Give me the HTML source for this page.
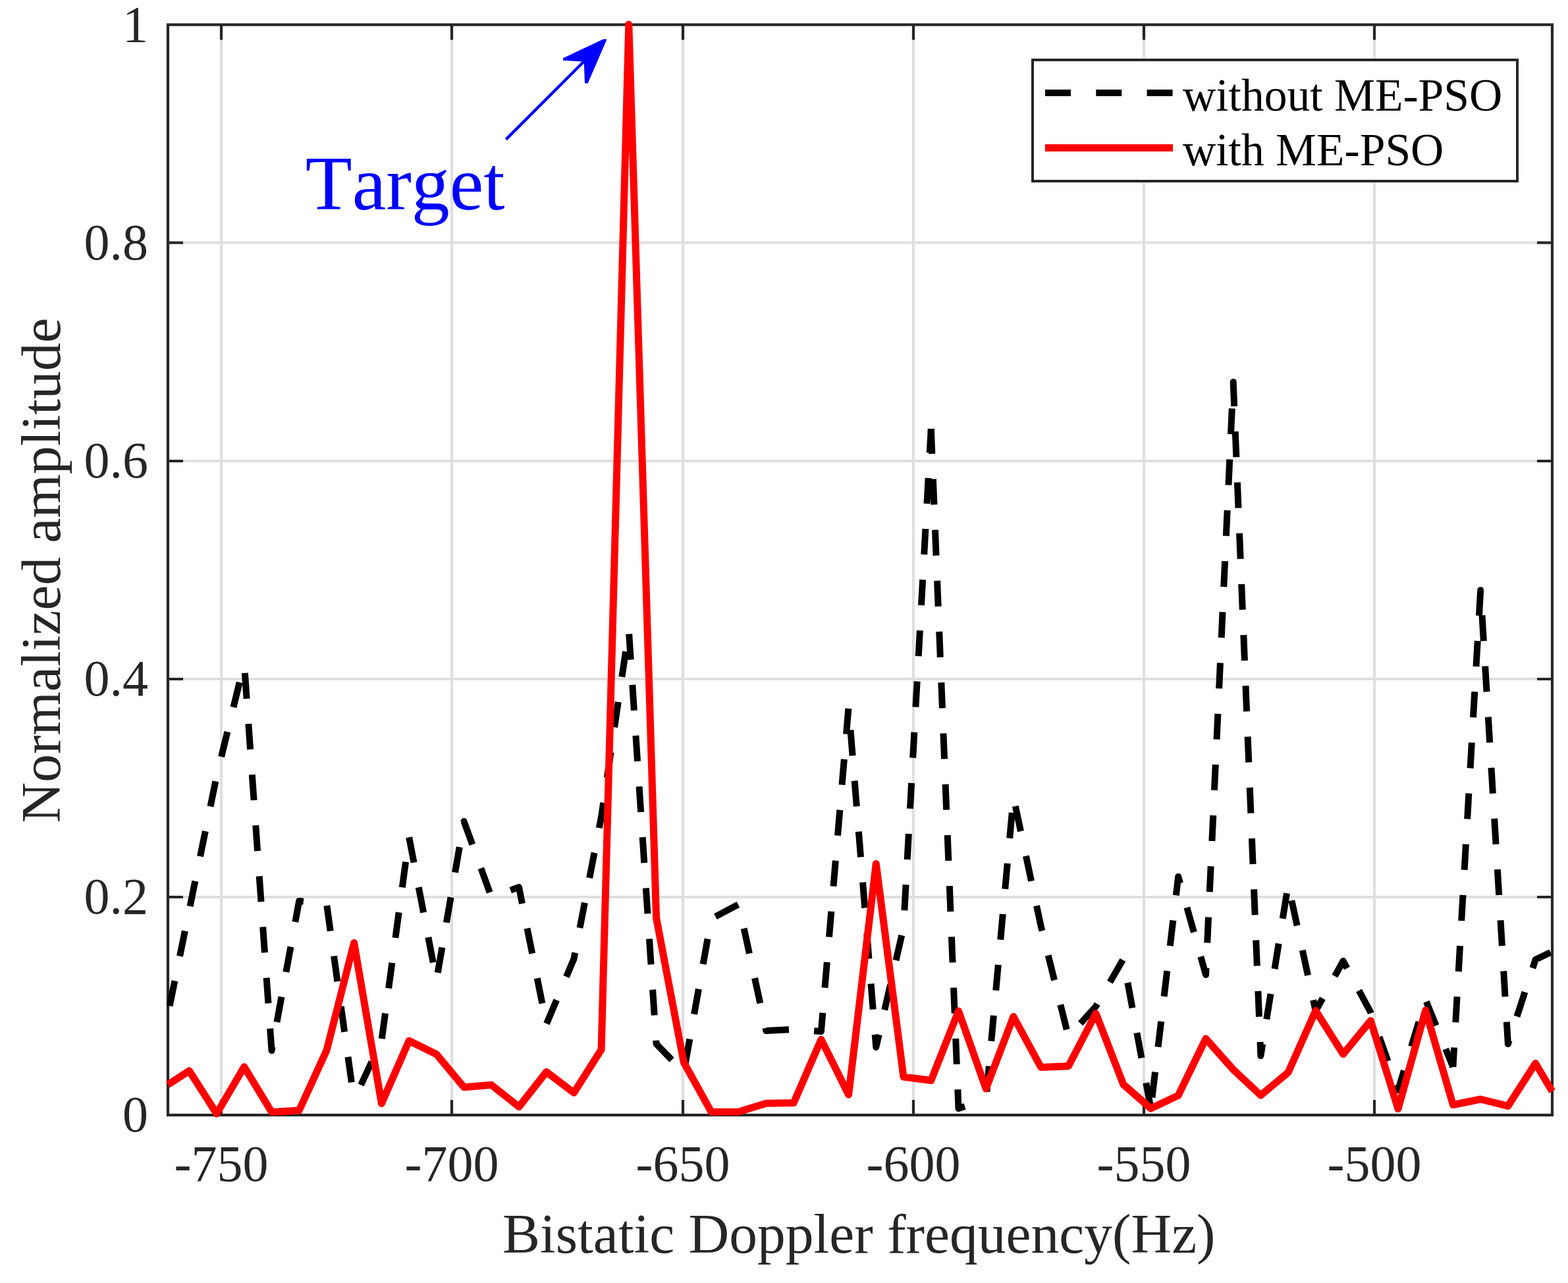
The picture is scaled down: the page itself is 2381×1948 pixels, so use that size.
<!DOCTYPE html>
<html><head><meta charset="utf-8"><title>Normalized amplitude vs Bistatic Doppler frequency</title>
<style>html,body{margin:0;padding:0;background:#fff;}svg{display:block;}text{font-kerning:none;font-feature-settings:"kern" 0;}</style>
</head><body>
<svg width="2381" height="1948" viewBox="0 0 2381 1948"><rect x="0" y="0" width="2381" height="1948" fill="#ffffff"/><path d="M336.0 37.5V1693M686.0 37.5V1693M1037.0 37.5V1693M1387.0 37.5V1693M1737.0 37.5V1693M2087.0 37.5V1693M255 1362.0H2357M255 1031.0H2357M255 700.0H2357M255 368.5H2357" stroke="#dfdfdf" stroke-width="4.2" fill="none"/><path d="M336.0 1693v-23M336.0 37.5v23M686.0 1693v-23M686.0 37.5v23M1037.0 1693v-23M1037.0 37.5v23M1387.0 1693v-23M1387.0 37.5v23M1737.0 1693v-23M1737.0 37.5v23M2087.0 1693v-23M2087.0 37.5v23M255 1362.0h23M2357 1362.0h-23M255 1031.0h23M2357 1031.0h-23M255 700.0h23M2357 700.0h-23M255 368.5h23M2357 368.5h-23" stroke="#262626" stroke-width="4.2" fill="none"/><rect x="255" y="37.5" width="2102" height="1655.5" fill="none" stroke="#262626" stroke-width="4.2"/><polyline points="255.0,1540.0 287.3,1382.0 329.0,1178.0 370.8,1007.0" fill="none" stroke="#000000" stroke-width="10" stroke-dasharray="39.0 38.3" stroke-dashoffset="64.41" stroke-linejoin="round" stroke-linecap="butt"/><polyline points="370.8,1007.0 412.5,1595.0 454.2,1368.0 495.9,1372.0 537.6,1670.0" fill="none" stroke="#000000" stroke-width="10" stroke-dasharray="39.0 38.3" stroke-dashoffset="62.36" stroke-linejoin="round" stroke-linecap="butt"/><polyline points="537.6,1670.0 579.4,1580.0 621.1,1271.0 662.8,1488.0 704.5,1247.0 746.2,1362.0 788.0,1347.0 829.7,1555.0" fill="none" stroke="#000000" stroke-width="10" stroke-dasharray="39.0 38.3" stroke-dashoffset="52.46" stroke-linejoin="round" stroke-linecap="butt"/><polyline points="829.7,1555.0 871.4,1456.0 913.1,1240.0 954.8,957.0 996.6,1585.0 1038.3,1628.0 1080.0,1395.0 1121.7,1373.0 1163.4,1565.0 1205.2,1563.0 1246.9,1566.0 1288.6,1073.0 1330.3,1590.0 1372.0,1408.0 1413.8,651.0" fill="none" stroke="#000000" stroke-width="10" stroke-dasharray="39.0 38.3" stroke-dashoffset="76.53" stroke-linejoin="round" stroke-linecap="butt"/><polyline points="1413.8,651.0 1455.5,1683.0 1497.2,1670.0" fill="none" stroke="#000000" stroke-width="10" stroke-dasharray="39.0 38.3" stroke-dashoffset="0.97" stroke-linejoin="round" stroke-linecap="butt"/><polyline points="1497.2,1670.0 1538.9,1210.0 1580.6,1406.0 1622.4,1574.0 1664.1,1528.0 1705.8,1456.0 1747.5,1683.0" fill="none" stroke="#000000" stroke-width="10" stroke-dasharray="39.0 38.3" stroke-dashoffset="64.91" stroke-linejoin="round" stroke-linecap="butt"/><polyline points="1747.5,1683.0 1789.2,1331.0 1831.0,1480.0 1872.7,580.0 1914.4,1603.0 1956.1,1343.0 1997.8,1535.0 2039.6,1459.0 2081.3,1537.0 2123.0,1655.0 2164.7,1518.0 2206.4,1620.0" fill="none" stroke="#000000" stroke-width="10" stroke-dasharray="39.0 38.3" stroke-dashoffset="60.61" stroke-linejoin="round" stroke-linecap="butt"/><polyline points="2206.4,1620.0 2248.2,896.0 2289.9,1585.0 2331.6,1457.0 2357.0,1444.8" fill="none" stroke="#000000" stroke-width="10" stroke-dasharray="39.0 38.3" stroke-dashoffset="9.45" stroke-linejoin="round" stroke-linecap="butt"/><polyline points="255.0,1646.9 287.3,1625.8 329.0,1691.0 370.8,1619.8 412.5,1688.4 454.2,1686.0 495.9,1594.9 537.6,1431.5 579.4,1675.5 621.1,1580.2 662.8,1600.7 704.5,1650.7 746.2,1647.3 788.0,1680.5 829.7,1627.5 871.4,1659.2 913.1,1593.5 954.8,37.1 996.6,1393.9 1038.3,1613.0 1080.0,1688.2 1121.7,1688.0 1163.4,1675.2 1205.2,1674.5 1246.9,1578.3 1288.6,1662.0 1330.3,1311.5 1372.0,1635.0 1413.8,1640.5 1455.5,1535.0 1497.2,1653.0 1538.9,1543.5 1580.6,1620.4 1622.4,1618.8 1664.1,1538.8 1705.8,1646.5 1747.5,1683.0 1789.2,1663.2 1831.0,1577.0 1872.7,1624.0 1914.4,1663.0 1956.1,1628.3 1997.8,1534.5 2039.6,1600.5 2081.3,1549.7 2123.0,1683.6 2164.7,1533.9 2206.4,1677.5 2248.2,1669.0 2289.9,1679.4 2331.6,1614.5 2357.0,1657.0" fill="none" stroke="#ff0000" stroke-width="11" stroke-linejoin="round" stroke-linecap="butt"/><text x="336.0" y="1793.2" font-family="'Liberation Serif','Times New Roman',serif" font-size="78" fill="#262626" text-anchor="middle">-750</text><text x="686.0" y="1793.2" font-family="'Liberation Serif','Times New Roman',serif" font-size="78" fill="#262626" text-anchor="middle">-700</text><text x="1037.0" y="1793.2" font-family="'Liberation Serif','Times New Roman',serif" font-size="78" fill="#262626" text-anchor="middle">-650</text><text x="1387.0" y="1793.2" font-family="'Liberation Serif','Times New Roman',serif" font-size="78" fill="#262626" text-anchor="middle">-600</text><text x="1737.0" y="1793.2" font-family="'Liberation Serif','Times New Roman',serif" font-size="78" fill="#262626" text-anchor="middle">-550</text><text x="2087.0" y="1793.2" font-family="'Liberation Serif','Times New Roman',serif" font-size="78" fill="#262626" text-anchor="middle">-500</text><text x="225" y="1718.0" font-family="'Liberation Serif','Times New Roman',serif" font-size="78" fill="#262626" text-anchor="end">0</text><text x="225" y="1387.0" font-family="'Liberation Serif','Times New Roman',serif" font-size="78" fill="#262626" text-anchor="end">0.2</text><text x="225" y="1056.0" font-family="'Liberation Serif','Times New Roman',serif" font-size="78" fill="#262626" text-anchor="end">0.4</text><text x="225" y="725.0" font-family="'Liberation Serif','Times New Roman',serif" font-size="78" fill="#262626" text-anchor="end">0.6</text><text x="225" y="393.5" font-family="'Liberation Serif','Times New Roman',serif" font-size="78" fill="#262626" text-anchor="end">0.8</text><text x="225" y="62.5" font-family="'Liberation Serif','Times New Roman',serif" font-size="78" fill="#262626" text-anchor="end">1</text><text x="1304.3" y="1902" font-family="'Liberation Serif','Times New Roman',serif" font-size="85.5" fill="#262626" text-anchor="middle">Bistatic Doppler frequency(Hz)</text><text transform="translate(91,866) rotate(-90)" x="0" y="0" font-family="'Liberation Serif','Times New Roman',serif" font-size="85.5" fill="#262626" text-anchor="middle">Normalized amplitude</text><rect x="1568" y="91" width="736" height="184" fill="#ffffff" stroke="#262626" stroke-width="4"/><path d="M1587 141H1781" stroke="#000" stroke-width="10" stroke-dasharray="39 38.3"/><path d="M1587 224.5H1781" stroke="#ff0000" stroke-width="11"/><text x="1796" y="168" font-family="'Liberation Serif','Times New Roman',serif" font-size="69.6" fill="#000">without ME-PSO</text><text x="1796" y="251" font-family="'Liberation Serif','Times New Roman',serif" font-size="69.6" fill="#000">with ME-PSO</text><path d="M768.4 211.6L887 93" stroke="#0000ff" stroke-width="4.4" fill="none"/><path d="M916 59.6L921.6 59.6L892.6 126.6L888 126.6L886.8 96.6L884.6 93.4L855 91.8L855 88.2Z" fill="#0000ff"/><text x="463.8" y="317.7" font-family="'Liberation Serif','Times New Roman',serif" font-size="116" fill="#0000ff">Target</text></svg>
</body></html>
